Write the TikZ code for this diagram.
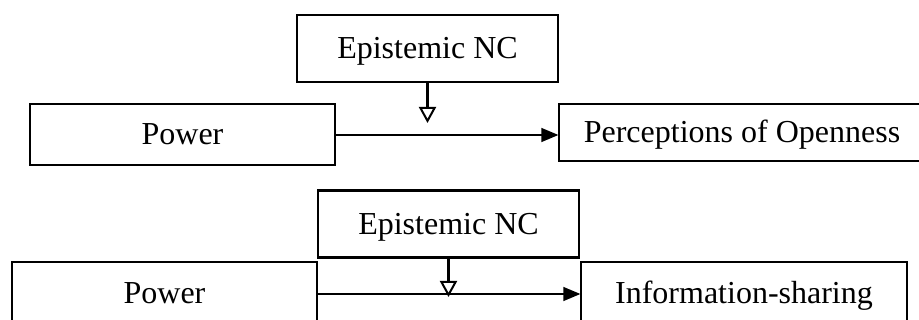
\documentclass[tikz,border=0pt]{standalone}
\usepackage{fontspec}
\setmainfont{Liberation Serif}
\usetikzlibrary{arrows.meta}
\begin{document}
\begin{tikzpicture}[x=1pt, y=-1pt,
    every node/.style={font=\fontsize{32}{38}\selectfont, text height=21pt, text depth=0pt},
    box/.style={draw, line width=1.3pt, inner sep=0pt},
    ncbox/.style={draw, line width=2.7pt, inner sep=0pt, minimum width=261pt, minimum height=67pt},
    effect/.style={line width=1.3pt, -{Triangle[length=17pt,width=14pt]}},
    moderator/.style={line width=2.7pt, -{Triangle[open,length=16pt,width=17pt,line width=2pt]}}]

    \useasboundingbox (0,0) rectangle (919,320);
    \clip (0,0) rectangle (919,320);

    % Top model
    \node[ncbox] (nc1) at (427.5,48.5) {Epistemic NC};
    \node[box, minimum width=305pt, minimum height=61pt] (pow1) at (182.5,134.5) {Power};
    \node[box, minimum width=366pt, minimum height=57pt] (open) at (742,132.5) {Perceptions of Openness};
    \coordinate (m1) at (427.5,123);

    % Bottom model
    \node[ncbox] (nc2) at (448.5,224) {Epistemic NC};
    \node[box, minimum width=305pt, minimum height=63pt] (pow2) at (164.5,293.5) {Power};
    \node[box, minimum width=326pt, minimum height=63pt] (info) at (744,293.5) {Information-sharing};
    \coordinate (m2) at (448.5,297);

    % Lines
    \draw[effect] (pow1.east |- 0,135) -- (open.west |- 0,135);
    \draw[moderator] (nc1.south) -- (m1);

    \draw[effect] (pow2.east |- 0,294) -- (info.west |- 0,294);
    \draw[moderator] (nc2.south) -- (m2);

\end{tikzpicture}
\end{document}
